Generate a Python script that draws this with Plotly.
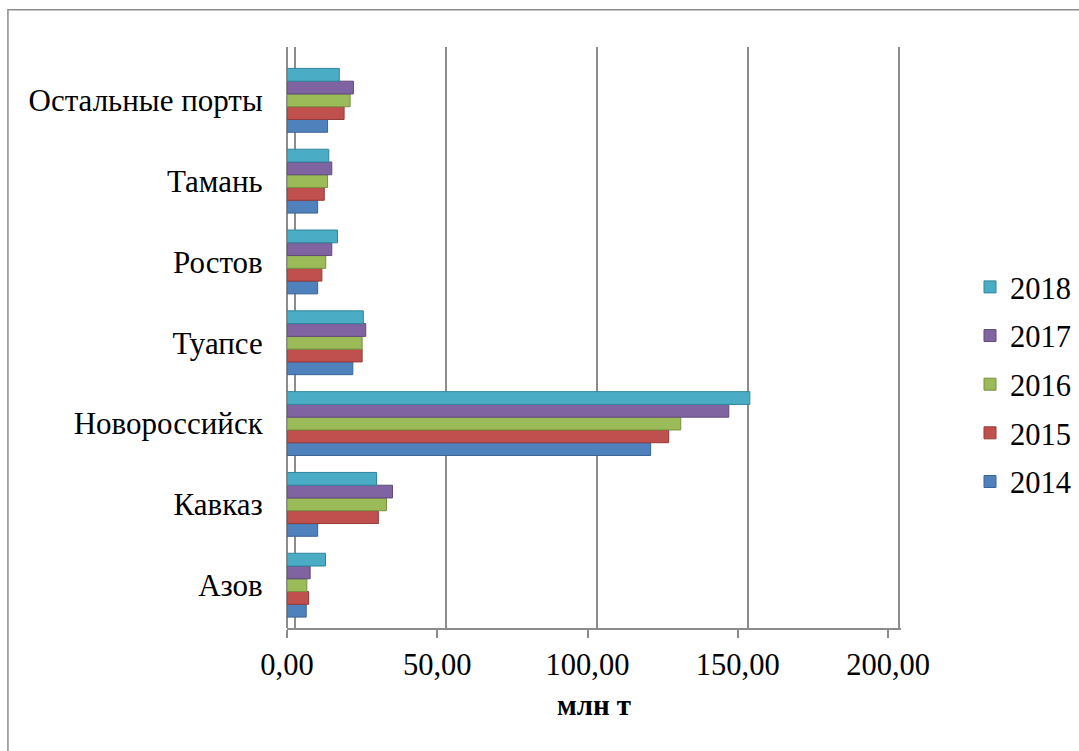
import plotly.graph_objects as go

ports = ["Азов", "Кавказ", "Новороссийск", "Туапсе", "Ростов", "Тамань", "Остальные порты"]
years = ["2014", "2015", "2016", "2017", "2018"]
v2014 = [6.4, 10.2, 121.0, 21.9, 10.2, 10.2, 13.5]
v2015 = [7.2, 30.4, 127.0, 25.0, 11.6, 12.4, 19.0]
v2016 = [6.6, 33.1, 131.0, 25.0, 12.9, 13.5, 21.0]
v2017 = [7.7, 35.1, 147.0, 26.2, 14.9, 14.9, 22.1]
v2018 = [12.8, 29.8, 154.0, 25.4, 16.8, 13.9, 17.4]
series = [v2014, v2015, v2016, v2017, v2018]
colors = ["#4F81BD", "#C0504D", "#9BBB59", "#8064A2", "#4BACC6"]
edge = ["#3A6496", "#953B39", "#77913F", "#5F4A7A", "#31859C"]

FONT = "Liberation Serif"
GRID = "#8C8C8C"

fig = go.Figure()
# empty helper trace so that the back-wall grid axis (x2) is drawn
fig.add_trace(go.Scatter(x=[], y=[], xaxis="x2", yaxis="y", showlegend=False, hoverinfo="skip"))
n = len(years)
for i, (yr, vals, c, e) in enumerate(zip(years, series, colors, edge)):
    fig.add_trace(go.Bar(
        y=ports, x=vals, name=yr, orientation="h",
        marker=dict(color=c, line=dict(color=e, width=1)),
        legendgroup=yr, legendrank=n - i,
    ))

fig.update_layout(
    width=1079, height=751,
    paper_bgcolor="white", plot_bgcolor="white",
    barmode="group", bargap=0.21, bargroupgap=0.0,
    separators=", ",
    margin=dict(l=287, r=178, t=47, b=123, autoexpand=False),
    font=dict(family=FONT, size=30, color="black"),
    legend=dict(
        x=1.1124, y=0.419, xanchor="left", yanchor="middle",
        traceorder="grouped", tracegroupgap=6,
        font=dict(family=FONT, size=30.5, color="black"),
        itemwidth=30,
    ),
    xaxis=dict(
        range=[0, 204.3], tickvals=[0, 50, 100, 150, 200], tickformat=".2f",
        showgrid=False,
        zeroline=True, zerolinecolor=GRID, zerolinewidth=2,
        showline=True, linecolor=GRID, linewidth=2,
        ticks="outside", tickcolor=GRID, ticklen=8, tickwidth=2,
        tickfont=dict(family=FONT, size=30.5),
        title=dict(text="<b>млн т</b>", font=dict(family=FONT, size=29), standoff=14),
        automargin=False,
        fixedrange=True,
    ),
    xaxis2=dict(
        overlaying="x", side="top", range=[-2.65, 200.7], dtick=50,
        showgrid=True, gridcolor=GRID, gridwidth=2,
        zeroline=False, showline=False, showticklabels=False, ticks="",
        automargin=False, fixedrange=True,
    ),
    yaxis=dict(
        range=[-0.53, 6.66],
        showgrid=False, showline=False, ticks="",
        ticksuffix="   ",
        tickfont=dict(family=FONT, size=31),
        automargin=False,
        fixedrange=True,
    ),
    shapes=[dict(
        type="rect", xref="paper", yref="paper",
        x0=-0.4545, x1=1.4, y0=-0.5, y1=1.064,
        line=dict(color=GRID, width=1.5), fillcolor="rgba(0,0,0,0)", layer="below",
    )],
)

fig.write_html(
    "out.html",
    config={"displayModeBar": False, "staticPlot": True},
    post_script="document.body.style.margin='0';document.body.style.overflow='hidden';",
)
